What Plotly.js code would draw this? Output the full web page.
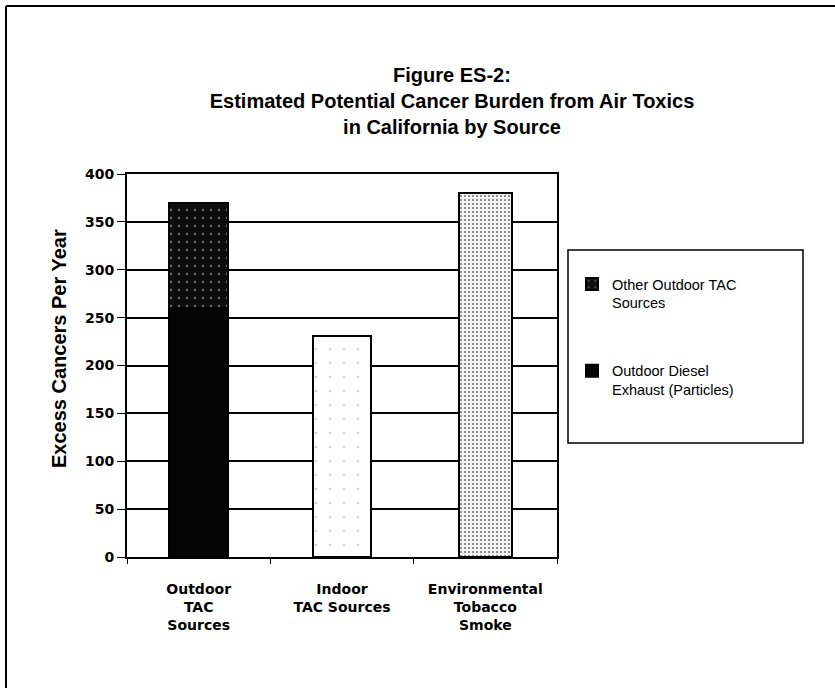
<!DOCTYPE html>
<html>
<head>
<meta charset="utf-8">
<script src="https://cdn.plot.ly/plotly-3.0.1.min.js"></script>
<style>html,body{margin:0;padding:0;background:#fff;}#chart{width:835px;height:688px;}</style>
</head>
<body>
<div id="chart"></div>
<script>
const categories = ["Outdoor<br>TAC<br>Sources", "Indoor<br>TAC Sources", "Environmental<br>Tobacco<br>Smoke"];
const dieselValues = [260, 0, 0];
const otherOutdoorValues = [110, 0, 0];
const indoorValues = [0, 231, 0];
const tobaccoValues = [0, 0, 380];
const seriesNames = ["Outdoor Diesel<br>Exhaust (Particles)", "Other Outdoor TAC<br>Sources"];
const yTicks = [0, 50, 100, 150, 200, 250, 300, 350, 400];

const font = "Liberation Sans, Arial, sans-serif";
const tickFont = "DejaVu Sans, Liberation Sans, sans-serif";
const L = 127, R = 557, T = 174, B = 557;
const px = x => (x - L) / (R - L);
const py = y => (B - y) / (B - T);

const traces = [
  {type: "bar", name: seriesNames[0], x: [categories[0]], y: [dieselValues[0]],
   legendgroup: "a", legendrank: 2, width: 0.41,
   marker: {color: "#050505", line: {color: "#000", width: 2}}},
  {type: "bar", name: seriesNames[1], x: [categories[0]], y: [otherOutdoorValues[0]],
   legendgroup: "b", legendrank: 1, width: 0.41,
   marker: {color: "#1a1a1a", line: {color: "#000", width: 2},
            pattern: {shape: ".", bgcolor: "#0d0d0d", fgcolor: "#6a6a6a", size: 8, solidity: 0.08}}},
  {type: "bar", name: "Indoor", x: [categories[1]], y: [indoorValues[1]], showlegend: false, width: 0.4,
   marker: {color: "#fff", line: {color: "#000", width: 2},
            pattern: {shape: ".", bgcolor: "#fff", fgcolor: "#d4d4d4", size: 14, solidity: 0.03}}},
  {type: "bar", name: "Tobacco", x: [categories[2]], y: [tobaccoValues[2]], showlegend: false, width: 0.37,
   marker: {color: "#eee", line: {color: "#000", width: 2},
            pattern: {shape: ".", bgcolor: "#f4f4f4", fgcolor: "#777", size: 4, solidity: 0.22}}}
];

const layout = {
  width: 835, height: 688,
  margin: {l: L, r: 835 - R, t: T, b: 688 - B, pad: 0},
  paper_bgcolor: "#fff", plot_bgcolor: "#fff",
  barmode: "stack",
  showlegend: true,
  font: {family: font, color: "#000"},
  title: {text: "<b>Figure ES-2:<br>Estimated Potential Cancer Burden from Air Toxics<br>in California by Source</b>",
          font: {family: font, size: 20, color: "#000"},
          x: px(452), xref: "paper", xanchor: "center", y: 1 - 82/688, yanchor: "top"},
  xaxis: {type: "category", categoryorder: "array", categoryarray: categories,
          ticks: "outside", tickson: "boundaries", ticklen: 5, tickwidth: 1, tickcolor: "#000",
          showline: true, linecolor: "#000", linewidth: 2, mirror: true,
          showgrid: false, tickfont: {family: tickFont, size: 14, color: "#000", weight: "bold"},
          ticklabelstandoff: 18,
          range: [-0.5, 2.5], fixedrange: true},
  yaxis: {range: [0, 400], tickvals: yTicks, ticktext: yTicks.map(String),
          ticks: "outside", ticklen: 8, tickwidth: 1, tickcolor: "#000",
          showline: true, linecolor: "#000", linewidth: 2, mirror: true,
          showgrid: true, gridcolor: "#000", gridwidth: 2, zeroline: false,
          tickfont: {family: tickFont, size: 14, color: "#000", weight: "bold"}},
  annotations: [
    {text: "<b>Excess Cancers Per Year</b>", xref: "paper", yref: "paper",
     x: px(59), y: py(349), xanchor: "center", yanchor: "middle", textangle: -90,
     showarrow: false, font: {family: font, size: 20, color: "#000"}}
  ],
  legend: {x: px(572), xanchor: "left", y: py(268), yanchor: "top",
           traceorder: "grouped", tracegroupgap: 46, valign: "top",
           bgcolor: "rgba(0,0,0,0)", borderwidth: 0,
           font: {family: font, size: 14.5, color: "#000"}},
  shapes: [
    {type: "rect", xref: "paper", yref: "paper", x0: px(568), x1: px(803), y0: py(250), y1: py(443),
     line: {color: "#000", width: 1.5}, fillcolor: "rgba(0,0,0,0)", layer: "below"},
    {type: "line", xref: "paper", yref: "paper", x0: px(6), x1: px(835), y0: py(6), y1: py(6),
     line: {color: "#000", width: 2}},
    {type: "line", xref: "paper", yref: "paper", x0: px(6), x1: px(6), y0: py(6), y1: py(700),
     line: {color: "#000", width: 2}}
  ]
};

Plotly.newPlot("chart", traces, layout, {displayModeBar: false, staticPlot: true});
</script>
</body>
</html>
